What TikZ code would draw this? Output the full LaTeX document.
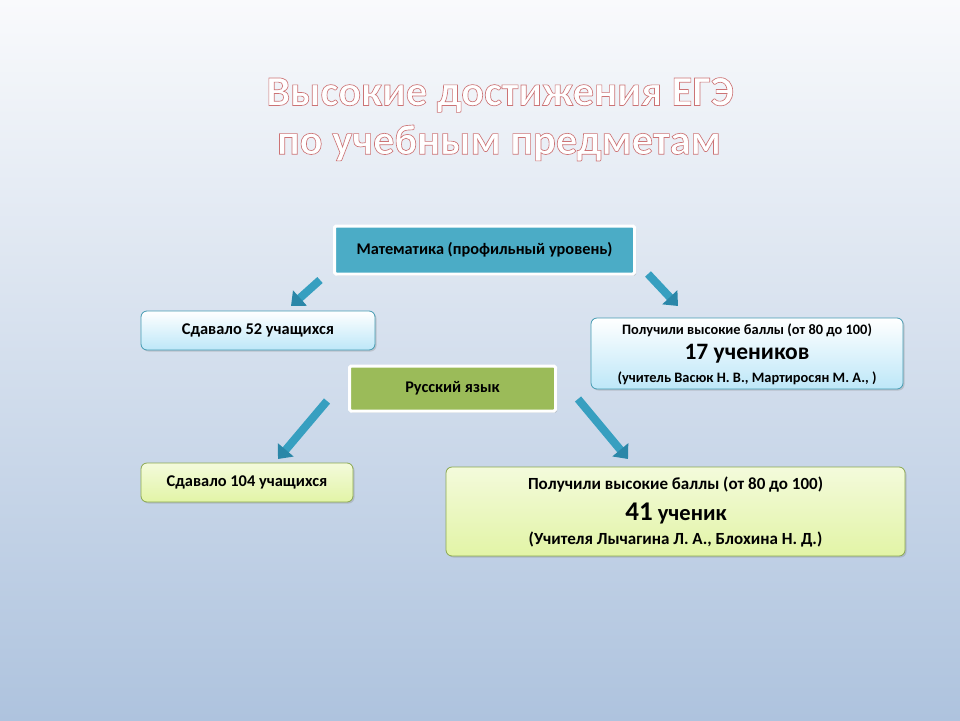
\documentclass[tikz,border=0pt]{standalone}
\usepackage{fontspec}
\setmainfont{Carlito}
\usetikzlibrary{arrows.meta,shadows}
\definecolor{bgtop}{HTML}{F9FAFC}
\definecolor{bgbot}{HTML}{AEC3DE}
\definecolor{teal}{HTML}{4BACC6}
\definecolor{olive}{HTML}{9BBB59}
\definecolor{lblue}{HTML}{BDE7F8}
\definecolor{lgreen}{HTML}{E2F4A6}
\definecolor{arrowc}{HTML}{379FC0}
\definecolor{arrowd}{HTML}{2B87A8}
\newcommand{\outlined}[1]{\special{pdf:literal direct 0.80 0.45 0.46 RG 1 1 1 rg 2 Tr 0.65 w}#1\special{pdf:literal direct 0 Tr 0 0 0 RG 0 0 0 rg}}
\tikzset{
  headbox/.style={rectangle, rounded corners=1.5pt, draw=white, line width=3pt, fill=#1,
    drop shadow={shadow xshift=1.5pt, shadow yshift=-1.5pt, opacity=0.35},
    font=\bfseries\fontsize{16.3}{19}\selectfont, align=center, inner sep=0pt},
  infobox/.style={rectangle, rounded corners=6pt, draw=#1!90!black, line width=0.8pt,
    drop shadow={shadow xshift=1.5pt, shadow yshift=-1.5pt, opacity=0.3},
    font=\bfseries\fontsize{16.4}{19}\selectfont, align=center, inner sep=0pt},
  bluefill/.style={top color=white, bottom color=lblue},
  greenfill/.style={top color=white!60!lgreen, bottom color=lgreen},
  smalltext/.style={font=\bfseries\fontsize{14.4}{17}\selectfont},
  midtext/.style={font=\bfseries\fontsize{17}{20}\selectfont},
  bigtext/.style={font=\bfseries\fontsize{23.5}{27}\selectfont},
  blockarrow/.style={draw=arrowc, line width=8pt, -{Triangle[width=20pt,length=12pt,color=arrowd]}}
}
\begin{document}
\begin{tikzpicture}[x=1pt,y=-1pt]
\shade[top color=bgtop, bottom color=bgbot] (0,0) rectangle (960,720);
\useasboundingbox (0,0) rectangle (960,720);

\node (title1) at (500,95) [font=\bfseries\fontsize{42.5}{48}\selectfont]
  {\outlined{Высокие достижения ЕГЭ}};
\node (title2) at (499,143) [font=\bfseries\fontsize{42.5}{48}\selectfont]
  {\outlined{по учебным предметам}};

\node (math) at (484.5,250) [headbox=teal, minimum width=300pt, minimum height=48pt]
  {Математика (профильный уровень)};
\node (s52) at (258,330.5) [infobox=teal, bluefill, minimum width=234pt, minimum height=39pt]
  {Сдавало 52 учащихся};
\node (r17) at (747,353.5) [infobox=teal, bluefill, minimum width=312pt, minimum height=71pt] {};
\node (r17a) at (747,330) [smalltext] {Получили высокие баллы (от 80 до 100)};
\node (r17b) at (747,354) [bigtext] {17 учеников};
\node (r17c) at (747,378) [smalltext] {(учитель Васюк Н. В., Мартиросян М. А., )};

\node (rus) at (452.5,388.5) [headbox=olive, minimum width=206pt, minimum height=45pt]
  {Русский язык};
\node (s104) at (247,482.5) [infobox=olive, greenfill, minimum width=212pt, minimum height=39pt]
  {Сдавало 104 учащихся};
\node (r41) at (675.5,511.5) [infobox=olive, greenfill, minimum width=459pt, minimum height=89pt] {};
\node (r41a) at (675.5,485) [midtext] {Получили высокие баллы (от 80 до 100)};
\node (r41b) at (676,513) [font=\bfseries\fontsize{22.5}{27}\selectfont] {{\fontsize{27}{30}\selectfont 41} ученик};
\node (r41c) at (675.5,539) [midtext] {(Учителя Лычагина Л. А., Блохина Н. Д.)};

\coordinate (a1s) at (320,280); \coordinate (a1e) at (291,306);
\coordinate (a2s) at (648,274); \coordinate (a2e) at (678,306);
\coordinate (a3s) at (327,401); \coordinate (a3e) at (278,459);
\coordinate (a4s) at (578,399); \coordinate (a4e) at (628,459);
\draw[blockarrow] (a1s) -- (a1e);
\draw[blockarrow] (a2s) -- (a2e);
\draw[blockarrow] (a3s) -- (a3e);
\draw[blockarrow] (a4s) -- (a4e);
\end{tikzpicture}
\end{document}
